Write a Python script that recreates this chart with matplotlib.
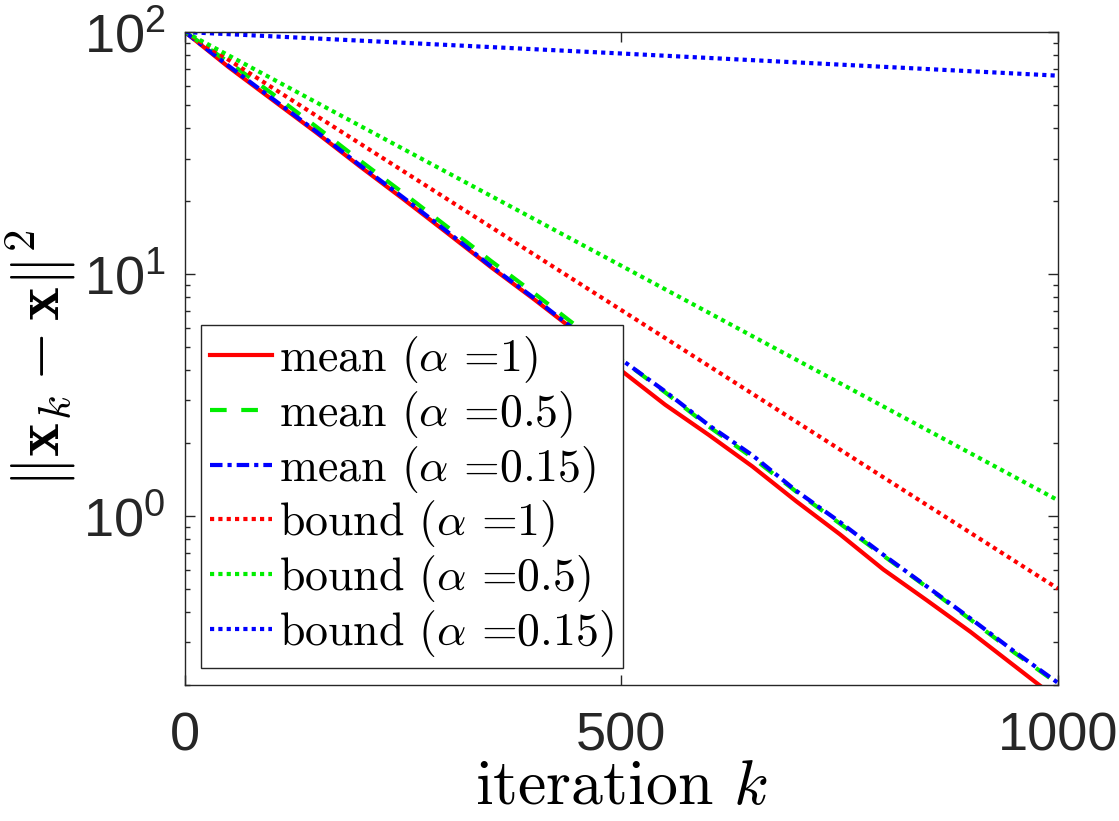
import numpy as np
import matplotlib
matplotlib.use("Agg")
import matplotlib.pyplot as plt
import matplotlib.ticker as mtick
from matplotlib.font_manager import FontProperties

# values
k_mean = [0, 50, 100, 150, 200, 250, 300, 350, 400, 450, 500,
          550, 600, 650, 700, 750, 800, 850, 900, 950, 1000]
mean_a1 = [100, 71.6, 52.5, 38.5, 27.9, 20.4, 14.8, 10.7, 7.85, 5.69, 3.98,
           2.88, 2.16, 1.60, 1.15, 0.84, 0.60, 0.447, 0.331, 0.24, 0.174]
mean_a05 = [100, 75.0, 55.6, 40.7, 29.5, 21.6, 15.7, 11.35, 8.32, 6.03, 4.42,
            3.24, 2.34, 1.74, 1.26, 0.93, 0.684, 0.507, 0.372, 0.272, 0.202]
mean_a015 = [100, 72.4, 53.1, 38.9, 28.2, 20.7, 15.0, 10.8, 7.94, 5.75, 4.42,
             3.27, 2.37, 1.78, 1.27, 0.944, 0.69, 0.51, 0.376, 0.275, 0.204]

k_bound = [0, 500, 1000]
bound_a1 = [100, 7.08, 0.50]
bound_a05 = [100, 10.8, 1.16]
bound_a015 = [100, 81.5, 66.0]

plt.rcParams['mathtext.fontset'] = 'custom'
plt.rcParams['mathtext.rm'] = 'Liberation Sans'
plt.rcParams['mathtext.it'] = 'Liberation Sans:italic'
plt.rcParams['mathtext.bf'] = 'Liberation Sans:bold'
plt.rcParams['font.family'] = ['Liberation Sans', 'DejaVu Sans']

fig = plt.figure(figsize=(11.19, 8.21), dpi=100)
ax = fig.add_axes([0.1653, 0.1657, 0.7802, 0.7953])

lw = 3
ax.plot(k_mean, mean_a1, color='#ff0000', lw=lw, ls='-', label=r'mean ($\alpha$ =1)')
ax.plot(k_mean, mean_a05, color='#00ee00', lw=lw, ls=(0, (4, 3.5)), label=r'mean ($\alpha$ =0.5)')
ax.plot(k_mean, mean_a015, color='#0000ff', lw=lw, ls=(0, (3, 1.2, 1, 1.2)), label=r'mean ($\alpha$ =0.15)')
ax.plot(k_bound, bound_a1, color='#ff0000', lw=lw, ls=(0, (1, 1)), label=r'bound ($\alpha$ =1)')
ax.plot(k_bound, bound_a05, color='#00ee00', lw=lw, ls=(0, (1, 1)), label=r'bound ($\alpha$ =0.5)')
ax.plot(k_bound, bound_a015, color='#0000ff', lw=lw, ls=(0, (1, 1)), label=r'bound ($\alpha$ =0.15)')

ax.set_yscale('log')
ax.set_xlim(0, 1000)
ax.set_ylim(0.2, 100)
ax.set_xticks([0, 500, 1000])
ax.yaxis.set_major_locator(mtick.LogLocator(base=10, numticks=10))
ax.yaxis.set_minor_locator(mtick.LogLocator(base=10, subs=np.arange(2, 10), numticks=10))
ax.yaxis.set_major_formatter(mtick.FuncFormatter(lambda v, p: r'$\mathrm{10^{%d}}$' % round(np.log10(v))))
ax.yaxis.set_minor_formatter(mtick.NullFormatter())

for s in ax.spines.values():
    s.set_linewidth(1.0)
    s.set_color('#262626')
ax.tick_params(which='both', direction='in', top=True, right=True, colors='#262626',
               labelsize=39, width=1.0)
ax.tick_params(which='major', length=7)
ax.tick_params(axis='x', which='major', pad=19)
ax.tick_params(axis='y', which='major', pad=14)
ax.tick_params(which='minor', length=3.5)

lab_font = FontProperties(family='cmr10', size=46, math_fontfamily='cm')
ax.set_xlabel(r'iteration $k$', fontproperties=lab_font, labelpad=-2)
ax.set_ylabel(r'$\|\mathbf{x}_k-\mathbf{x}\|^2$', fontproperties=lab_font, labelpad=4)

leg_font = FontProperties(family='cmr10', size=33, math_fontfamily='cm')
leg = ax.legend(loc='lower left', bbox_to_anchor=(0.0183, 0.026), borderaxespad=0,
                prop=leg_font, fancybox=False, framealpha=1, edgecolor='#262626',
                handlelength=1.35, handletextpad=0.15, labelspacing=0.08, borderpad=0.2)
leg.get_frame().set_linewidth(1.0)

fig.savefig('out.png', dpi=100)
